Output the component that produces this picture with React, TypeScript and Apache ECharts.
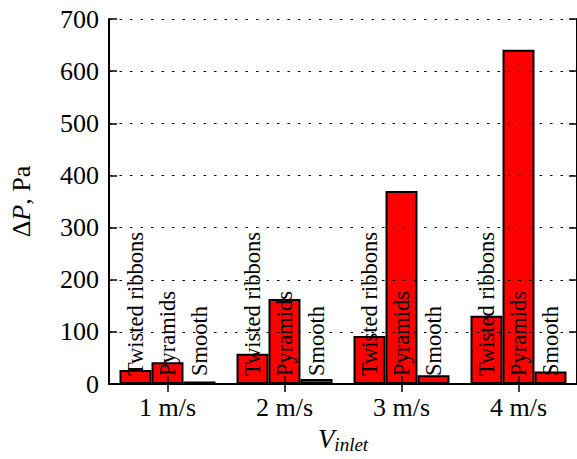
import React, { useEffect, useRef } from "react";
import * as echarts from "echarts";

// Inlet velocities and pressure drop (Pa) per surface type
const categories = ["1 m/s", "2 m/s", "3 m/s", "4 m/s"];
const seriesNames = ["Twisted ribbons", "Pyramids", "Smooth"];
const twistedRibbons = [27, 58, 92, 131];
const pyramids = [42, 163, 370, 641];
const smooth = [5, 10, 17, 24];

const FONT = "Liberation Serif";

const serif = (size: number, italic = false) => ({
  fontFamily: FONT,
  fontSize: size,
  fontStyle: italic ? "italic" : "normal",
  color: "#000",
});

export default function App() {
  const ref = useRef<HTMLDivElement>(null);

  useEffect(() => {
    if (!ref.current) return;
    const chart = echarts.init(ref.current, undefined, { renderer: "svg" });

    const barLabel = {
      show: true,
      formatter: "{a}",
      position: "insideBottom",
      distance: 8,
      rotate: 90,
      align: "left",
      verticalAlign: "middle",
      ...serif(22.5),
    };

    const makeSeries = (name: string, data: number[]) => ({
      name,
      type: "bar",
      data,
      xAxisIndex: 0,
      yAxisIndex: 0,
      barWidth: 32,
      barGap: "0%",
      itemStyle: { color: "#ff0000", borderColor: "#000", borderWidth: 2 },
      label: barLabel,
    });

    const frame = { show: true, lineStyle: { color: "#000", width: 2 } };
    const innerTick = { show: true, inside: true, length: 8, lineStyle: { color: "#000", width: 1.5 } };

    chart.setOption({
      animation: false,
      backgroundColor: "#fff",
      grid: { left: 103, top: 19, width: 476, height: 368, containLabel: false },
      xAxis: [
        {
          type: "category",
          data: categories,
          position: "bottom",
          z: 10,
          axisLine: frame,
          axisTick: { ...innerTick, alignWithLabel: true },
          axisLabel: { margin: 10, ...serif(26) },
          name: "{v|V}{s|inlet}",
          nameLocation: "middle",
          nameGap: 32,
          nameTextStyle: {
            rich: {
              v: serif(27, true),
              s: { ...serif(19, true), padding: [12, 0, 0, 0] },
            },
          },
        },
        {
          type: "category",
          data: categories,
          position: "top",
          z: 10,
          axisLine: frame,
          axisTick: { ...innerTick, alignWithLabel: true },
          axisLabel: { show: false },
        },
      ],
      yAxis: [
        {
          type: "value",
          min: 0,
          max: 700,
          interval: 100,
          position: "left",
          z: 10,
          axisLine: frame,
          axisTick: innerTick,
          axisLabel: { margin: 10, ...serif(26) },
          splitLine: { show: true, lineStyle: { color: "#000", type: [2.5, 8], width: 1.2 } },
          name: "{d|Δ}{p|P}{t|, Pa}",
          nameLocation: "middle",
          nameRotate: 90,
          nameGap: 75,
          nameTextStyle: {
            rich: { d: serif(26), p: serif(26, true), t: serif(26) },
          },
        },
        {
          type: "value",
          min: 0,
          max: 700,
          interval: 100,
          position: "right",
          z: 10,
          axisLine: frame,
          axisTick: innerTick,
          axisLabel: { show: false },
          splitLine: { show: false },
        },
      ],
      series: [
        makeSeries(seriesNames[0], twistedRibbons),
        makeSeries(seriesNames[1], pyramids),
        makeSeries(seriesNames[2], smooth),
      ],
    });

    return () => chart.dispose();
  }, []);

  return (
    <div
      ref={ref}
      style={{ position: "fixed", left: 0, top: 0, width: 577, height: 459, background: "#fff" }}
    />
  );
}
